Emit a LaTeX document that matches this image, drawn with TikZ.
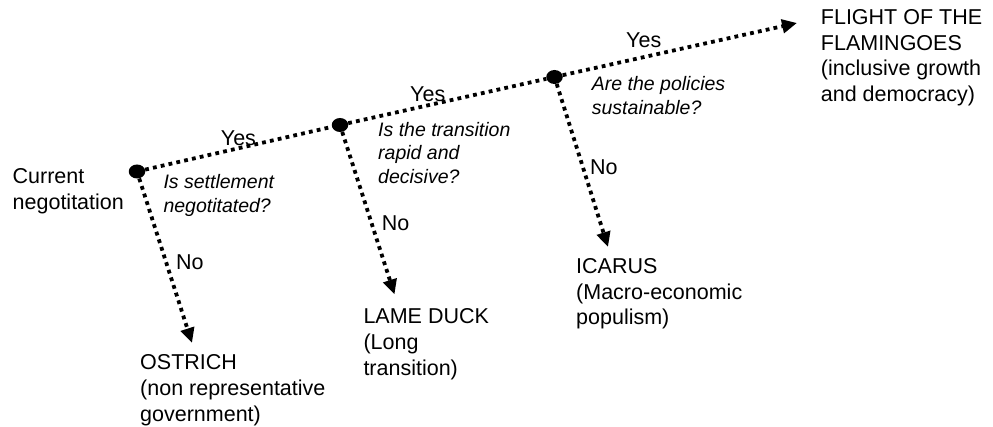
\documentclass[tikz,border=0pt]{standalone}
\usepackage{fontspec}
\setmainfont{Liberation Sans}
\usetikzlibrary{arrows.meta,shapes.geometric}

\tikzset{
  junction/.style={ellipse, fill=black, inner sep=0pt, minimum width=16.5pt, minimum height=14pt},
  link/.style={line width=3.8pt, dash pattern=on 3.8pt off 4.2pt},
  linkarrow/.style={link, -{Triangle[length=15pt,width=13.5pt]}},
  % multi-line nodes: the base anchor sits on the baseline of the last line
  lbl/.style={anchor=base west, inner sep=0pt, align=left, font=\fontsize{21.5}{25.7}\selectfont},
  question/.style={anchor=base west, inner sep=0pt, align=left, font=\fontsize{19.5}{23.5}\selectfont\itshape}
}

\begin{document}
\begin{tikzpicture}[x=1pt,y=-1pt]
  \useasboundingbox (0,0) rectangle (993,427);

  % decision points
  \node[junction] (d1) at (137,171.5) {};
  \node[junction] (d2) at (340,125) {};
  \node[junction] (d3) at (554.5,77) {};

  % arrow ends
  \coordinate (eflight) at (797,23);
  \coordinate (eostrich) at (192,343);
  \coordinate (elame) at (394.5,294.5);
  \coordinate (eicarus) at (608,247);

  % outcomes and start
  \node[lbl] (start) at (12.5,209.3) {Current\\negotitation};
  \node[lbl] (flight) at (820.7,101.7) {FLIGHT OF THE\\FLAMINGOES\\(inclusive growth\\and democracy)};
  \node[lbl] (ostrich) at (140,421.2) {OSTRICH\\(non representative\\government)};
  \node[lbl] (lame) at (363.3,375) {LAME DUCK\\(Long\\transition)};
  \node[lbl] (icarus) at (576,325) {ICARUS\\(Macro-economic\\populism)};

  % questions
  \node[question] (q1) at (163.3,212.5) {Is settlement\\negotitated?};
  \node[question] (q2) at (378,183.3) {Is the transition\\rapid and\\decisive?};
  \node[question] (q3) at (591.7,114.5) {Are the policies\\sustainable?};

  % yes path
  \draw[link] (d1) -- (d2);
  \draw[link] (d2) -- (d3);
  \draw[linkarrow] (d3) -- (eflight);

  % no branches
  \draw[linkarrow] (d1) -- (eostrich);
  \draw[linkarrow] (d2) -- (elame);
  \draw[linkarrow] (d3) -- (eicarus);

  % branch labels
  \node[lbl] (y1) at (220.7,145.3) {Yes};
  \node[lbl] (y2) at (410,101.7) {Yes};
  \node[lbl] (y3) at (626,47.3) {Yes};
  \node[lbl] (n1) at (176,270) {No};
  \node[lbl] (n2) at (381.7,230.7) {No};
  \node[lbl] (n3) at (590,175) {No};
\end{tikzpicture}
\end{document}
